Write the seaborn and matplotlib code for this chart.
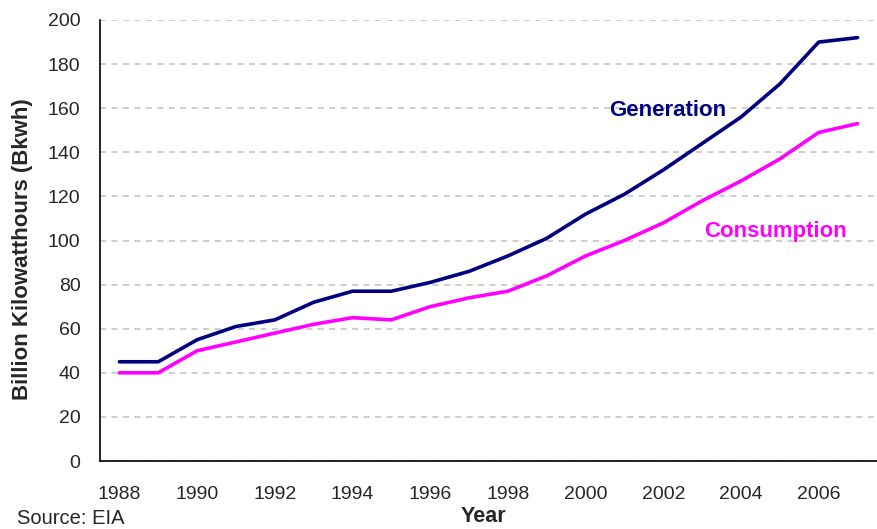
import pandas as pd
import matplotlib
matplotlib.use("Agg")
import matplotlib.pyplot as plt
import seaborn as sns

# Dados (bilhões de kWh)
years = list(range(1988, 2008))
generation = [45, 45, 55, 61, 64, 72, 77, 77, 81, 86, 93, 101, 112, 121, 132, 144, 156, 171, 190, 192]
consumption = [40, 40, 50, 54, 58, 62, 65, 64, 70, 74, 77, 84, 93, 100, 108, 118, 127, 137, 149, 153]
tick_labels = [str(y) for y in years[::2]]

df = pd.DataFrame({
    "idx": list(range(len(years))) * 2,
    "valor": generation + consumption,
    "serie": ["Generation"] * len(years) + ["Consumption"] * len(years),
})

sns.set_style("white")
plt.rcParams["font.family"] = ["Liberation Sans", "DejaVu Sans"]

fig = plt.figure(figsize=(8.77, 5.29), dpi=100)
ax = fig.add_axes([100 / 877, 1 - 461 / 529, 777 / 877, 441 / 529])

sns.lineplot(data=df, x="idx", y="valor", hue="serie",
             palette={"Generation": "#000080", "Consumption": "#FF00FF"},
             linewidth=2.6, legend=False, ax=ax)

ax.set_xlim(-0.5, 19.37)
ax.set_ylim(0, 200)
ax.set_yticks(range(0, 201, 20))
ax.yaxis.grid(True, linestyle=(0, (4, 3.5)), color="#c0c0c0", linewidth=1.1)
ax.set_axisbelow(True)

# ticks entre as categorias, rótulos centrados a cada 2 anos
ax.set_xticks([i - 0.5 for i in range(len(years) + 1)])
ax.set_xticklabels([])
ax.set_xticks(list(range(0, len(years), 2)), minor=True)
ax.set_xticklabels(tick_labels, minor=True)
ax.tick_params(axis="x", which="major", direction="out", length=5, width=1, color="black")
ax.tick_params(axis="x", which="minor", length=0, pad=18, labelsize=14)
ax.tick_params(axis="y", direction="out", length=5, width=1, color="black", labelsize=14, pad=9)

for s in ["top", "right"]:
    ax.spines[s].set_visible(False)
for s in ["left", "bottom"]:
    ax.spines[s].set_color("black")
    ax.spines[s].set_linewidth(1.2)

ax.set_xlabel("")
ax.set_ylabel("")

ax.text(14.1, 159, "Generation", color="#000080", fontsize=16, fontweight="bold",
        ha="center", va="center")
ax.text(16.9, 104, "Consumption", color="#FF00FF", fontsize=16, fontweight="bold",
        ha="center", va="center")

fig.text(23 / 877, 1 - 249 / 529, "Billion Kilowatthours (Bkwh)", fontsize=16,
         fontweight="bold", rotation=90, ha="center", va="center")
fig.text(483 / 877, 1 - 517 / 529, "Year", fontsize=15.5, fontweight="bold", ha="center", va="center")
fig.text(17 / 877, 1 / 529, "Source: EIA", fontsize=14.5, ha="left", va="bottom")

fig.savefig("out.png", dpi=100)
plt.close(fig)
